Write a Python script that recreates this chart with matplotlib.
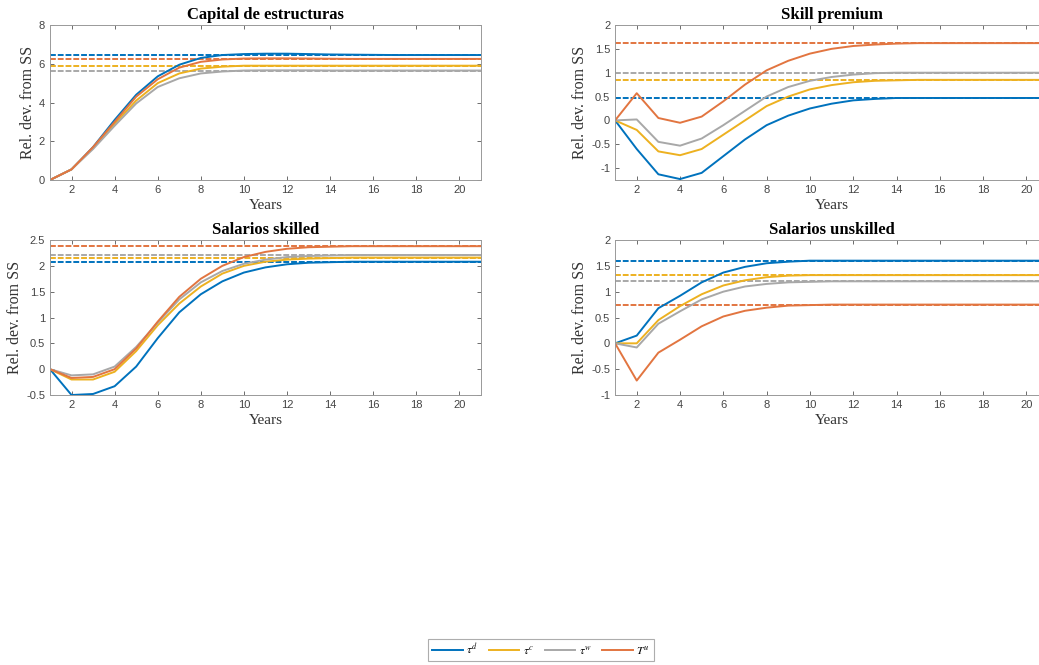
import numpy as np
import matplotlib
matplotlib.use('Agg')
import matplotlib.pyplot as plt

years = np.arange(1, 22)

# Capital de estructuras
cap_d = [0, 0.55, 1.7, 3.1, 4.4, 5.35, 5.95, 6.3, 6.45, 6.5, 6.52, 6.52, 6.5, 6.48, 6.47, 6.46, 6.45, 6.45, 6.45, 6.45, 6.45]
cap_c = [0, 0.55, 1.65, 2.9, 4.1, 5.0, 5.5, 5.75, 5.85, 5.9, 5.9, 5.9, 5.9, 5.9, 5.9, 5.9, 5.9, 5.9, 5.9, 5.9, 5.9]
cap_w = [0, 0.55, 1.6, 2.8, 3.95, 4.8, 5.25, 5.5, 5.6, 5.65, 5.66, 5.66, 5.66, 5.65, 5.65, 5.65, 5.65, 5.65, 5.65, 5.65, 5.65]
cap_u = [0, 0.55, 1.7, 3.0, 4.3, 5.2, 5.8, 6.1, 6.22, 6.27, 6.28, 6.28, 6.27, 6.26, 6.25, 6.25, 6.25, 6.25, 6.25, 6.25, 6.25]
cap_ss = [6.45, 5.9, 5.65, 6.25]

# Skill premium
sp_d = [0, -0.6, -1.13, -1.23, -1.1, -0.75, -0.4, -0.1, 0.1, 0.25, 0.35, 0.42, 0.45, 0.47, 0.47, 0.47, 0.47, 0.47, 0.47, 0.47, 0.47]
sp_c = [0, -0.2, -0.65, -0.73, -0.6, -0.3, 0.0, 0.3, 0.5, 0.65, 0.74, 0.8, 0.83, 0.84, 0.85, 0.85, 0.85, 0.85, 0.85, 0.85, 0.85]
sp_w = [0, 0.02, -0.45, -0.53, -0.38, -0.1, 0.2, 0.5, 0.7, 0.83, 0.91, 0.96, 0.99, 1.0, 1.0, 1.0, 1.0, 1.0, 1.0, 1.0, 1.0]
sp_u = [0, 0.57, 0.05, -0.05, 0.08, 0.4, 0.75, 1.05, 1.25, 1.4, 1.5, 1.56, 1.59, 1.61, 1.62, 1.62, 1.62, 1.62, 1.62, 1.62, 1.62]
sp_ss = [0.47, 0.85, 1.0, 1.62]

# Salarios skilled
ws_d = [0, -0.5, -0.48, -0.33, 0.05, 0.6, 1.1, 1.45, 1.7, 1.87, 1.97, 2.03, 2.06, 2.07, 2.08, 2.08, 2.08, 2.08, 2.08, 2.08, 2.08]
ws_c = [0, -0.2, -0.2, -0.05, 0.35, 0.85, 1.27, 1.6, 1.85, 2.0, 2.08, 2.12, 2.14, 2.15, 2.16, 2.16, 2.16, 2.16, 2.16, 2.16, 2.16]
ws_w = [0, -0.12, -0.1, 0.05, 0.43, 0.9, 1.35, 1.68, 1.9, 2.04, 2.12, 2.17, 2.19, 2.2, 2.21, 2.21, 2.21, 2.21, 2.21, 2.21, 2.21]
ws_u = [0, -0.17, -0.15, 0.0, 0.4, 0.92, 1.4, 1.75, 2.0, 2.17, 2.27, 2.33, 2.36, 2.37, 2.38, 2.38, 2.38, 2.38, 2.38, 2.38, 2.38]
ws_ss = [2.08, 2.16, 2.21, 2.38]

# Salarios unskilled
wu_d = [0, 0.15, 0.68, 0.92, 1.18, 1.37, 1.48, 1.55, 1.58, 1.6, 1.6, 1.6, 1.6, 1.6, 1.6, 1.6, 1.6, 1.6, 1.6, 1.6, 1.6]
wu_c = [0, 0.0, 0.45, 0.72, 0.95, 1.12, 1.22, 1.28, 1.31, 1.32, 1.32, 1.32, 1.32, 1.32, 1.32, 1.32, 1.32, 1.32, 1.32, 1.32, 1.32]
wu_w = [0, -0.08, 0.38, 0.62, 0.85, 1.0, 1.1, 1.15, 1.18, 1.19, 1.2, 1.2, 1.2, 1.2, 1.2, 1.2, 1.2, 1.2, 1.2, 1.2, 1.2]
wu_u = [0, -0.72, -0.18, 0.07, 0.33, 0.52, 0.63, 0.69, 0.73, 0.74, 0.75, 0.75, 0.75, 0.75, 0.75, 0.75, 0.75, 0.75, 0.75, 0.75, 0.75]
wu_ss = [1.6, 1.32, 1.2, 0.75]

labels = [r'$\tau^d$', r'$\tau^c$', r'$\tau^w$', r'$T^u$']
colors = ['#0072BD', '#EDB120', '#A8A8A8', '#E27540']

panels = [
    ('Capital de estructuras', [cap_d, cap_c, cap_w, cap_u], cap_ss, (0, 8), [0, 2, 4, 6, 8]),
    ('Skill premium', [sp_d, sp_c, sp_w, sp_u], sp_ss, (-1.25, 2), [-1, -0.5, 0, 0.5, 1, 1.5, 2]),
    ('Salarios skilled', [ws_d, ws_c, ws_w, ws_u], ws_ss, (-0.5, 2.5), [-0.5, 0, 0.5, 1, 1.5, 2, 2.5]),
    ('Salarios unskilled', [wu_d, wu_c, wu_w, wu_u], wu_ss, (-1, 2), [-1, -0.5, 0, 0.5, 1, 1.5, 2]),
]

positions = [
    [0.0481, 0.7293, 0.4148, 0.2331],
    [0.592, 0.7293, 0.4167, 0.2331],
    [0.0481, 0.406, 0.4148, 0.2331],
    [0.592, 0.406, 0.4167, 0.2331],
]

serif = ['Liberation Serif', 'DejaVu Serif']
sans = ['Liberation Sans', 'DejaVu Sans']
plt.rcParams['mathtext.fontset'] = 'stix'

fig = plt.figure(figsize=(10.39, 6.65), dpi=100)
handles = []
for pos, (title, series, ss, ylim, yticks) in zip(positions, panels):
    ax = fig.add_axes(pos)
    for s, lvl, c in zip(series, ss, colors):
        ax.axhline(lvl, color=c, lw=1.4, ls=(0, (3, 1)))
    hs = []
    for s, c, lab in zip(series, colors, labels):
        h, = ax.plot(years, s, color=c, lw=1.4, label=lab)
        hs.append(h)
    handles = hs
    ax.set_xlim(1, 21)
    ax.set_ylim(*ylim)
    ax.set_xticks(range(2, 21, 2))
    ax.set_yticks(yticks)
    ax.set_yticklabels(['%g' % t for t in yticks])
    ax.tick_params(direction='in', top=True, right=True, length=3, width=0.6,
                   labelsize=8, colors='#555555', labelcolor='#444444')
    for lab in ax.get_xticklabels() + ax.get_yticklabels():
        lab.set_family(sans)
    for sp in ax.spines.values():
        sp.set_color('#999999')
        sp.set_linewidth(0.7)
    ax.set_title(title, family=serif, fontweight='bold', fontsize=12, pad=4)
    ax.set_xlabel('Years', family=serif, fontsize=11, color='#333333', labelpad=3)
    ax.set_ylabel('Rel. dev. from SS', family=serif, fontsize=11.5, color='#333333', labelpad=2)

leg = fig.legend(handles, labels, loc='center', bbox_to_anchor=(0.5207, 0.0226), ncol=4,
                 fontsize=8.5, frameon=True, fancybox=False, handlelength=2.6,
                 columnspacing=0.9, handletextpad=0.3, borderpad=0.3)
leg.get_frame().set_edgecolor('#999999')
leg.get_frame().set_linewidth(0.8)

fig.savefig('out.png', dpi=100)
